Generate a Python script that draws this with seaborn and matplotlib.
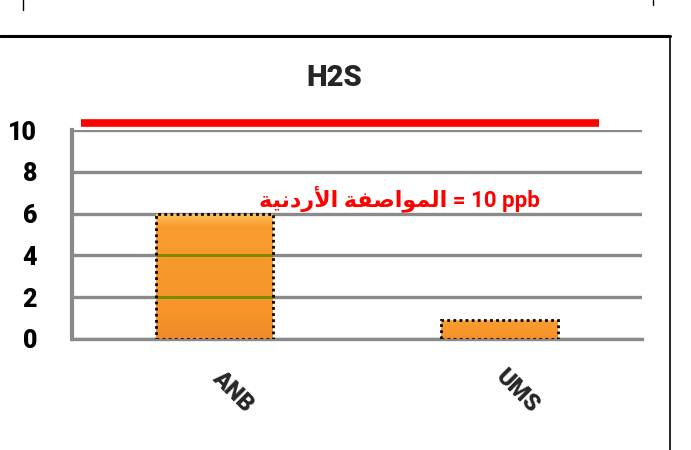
import numpy as np  # arrays
import pandas as pd  # data
import matplotlib.pyplot as plt  # plotting
import seaborn as sns  # plotting
from matplotlib.colors import LinearSegmentedColormap
from matplotlib.transforms import ScaledTranslation

# DATA
sites = ['ANB', 'UMS']
h2s_values = [6.0, 0.9]
y_ticks = [0, 2, 4, 6, 8, 10]
standard_line = 10.35  # red standard line, drawn just above the 10 gridline
title_text = 'H2S'
standard_label_ar = 'المواصفة الأردنية'
standard_label_val = '= 10 ppb'

sns.set_style('white')
plt.rcParams['font.family'] = ['Roboto', 'DejaVu Sans']
plt.rcParams['font.weight'] = 'bold'

GRAY = '#8a8a8a'


# matplotlib has no arabic shaping, so pick presentation forms by hand
# forms: isolated, final, initial, medial
AR_FORMS = {
    'ا': ('\ufe8d', '\ufe8e', None, None),
    'أ': ('\ufe83', '\ufe84', None, None),
    'ل': ('\ufedd', '\ufede', '\ufedf', '\ufee0'),
    'م': ('\ufee1', '\ufee2', '\ufee3', '\ufee4'),
    'و': ('\ufeed', '\ufeee', None, None),
    'ص': ('\ufeb9', '\ufeba', '\ufebb', '\ufebc'),
    'ف': ('\ufed1', '\ufed2', '\ufed3', '\ufed4'),
    'ة': ('\ufe93', '\ufe94', None, None),
    'ر': ('\ufead', '\ufeae', None, None),
    'د': ('\ufea9', '\ufeaa', None, None),
    'ن': ('\ufee5', '\ufee6', '\ufee7', '\ufee8'),
    'ي': ('\ufef1', '\ufef2', '\ufef3', '\ufef4'),
    'لأ': ('\ufef7', '\ufef8', None, None),
    'لا': ('\ufefb', '\ufefc', None, None),
}


def shape_arabic(text):
    letters = []
    i = 0
    while i < len(text):
        if text[i:i + 2] in ('لأ', 'لا'):
            letters.append(text[i:i + 2])
            i += 2
        else:
            letters.append(text[i])
            i += 1
    out = []
    for k, ch in enumerate(letters):
        if ch not in AR_FORMS:
            out.append(ch)
            continue
        prev = letters[k - 1] if k > 0 else None
        nxt = letters[k + 1] if k + 1 < len(letters) else None
        joins_prev = prev in AR_FORMS and AR_FORMS[prev][2] is not None
        joins_next = AR_FORMS[ch][2] is not None and nxt in AR_FORMS
        iso, fin, ini, med = AR_FORMS[ch]
        if joins_prev and joins_next:
            out.append(med)
        elif joins_next:
            out.append(ini)
        elif joins_prev:
            out.append(fin)
        else:
            out.append(iso)
    return ''.join(reversed(out))  # visual (right-to-left) order


df = pd.DataFrame({'site': sites, 'h2s': h2s_values})

fig = plt.figure(figsize=(6.91, 4.5), dpi=100)
ax = fig.add_axes([0.104, 0.2467, 0.825, 0.4644])

sns.barplot(data=df, x='site', y='h2s', color='#f7962a', width=0.41,
            edgecolor='black', linewidth=2.0, linestyle=(0, (1, 1.2)), ax=ax, zorder=3)

ax.set_xlabel('')
ax.set_ylabel('')

# bar gradient (office-style bevel: light top strip, slightly darker bottom)
grad = LinearSegmentedColormap.from_list(
    'bar', [(0, '#ef8b29'), (0.2, '#f6942a'), (0.9, '#f99c2e'), (1, '#fdc463')])
for p in ax.patches:
    x0, w, h = p.get_x(), p.get_width(), p.get_height()
    im = ax.imshow(np.linspace(0, 1, 200).reshape(-1, 1), cmap=grad, aspect='auto',
                   origin='lower', extent=(x0, x0 + w, 0, h), zorder=3.1)
    im.set_clip_path(p)
    # gridlines seen through the bar
    for g in y_ticks[1:]:
        if g < h:
            ax.hlines(g, x0, x0 + w, color='#7d8a00', linewidth=2.2, zorder=3.2)
    p.set_facecolor('none')
    p.set_zorder(3.3)
ax.set_xlim(-0.5, 1.5)
ax.set_ylim(0, 10)
ax.set_yticks(y_ticks)

# grid and axes
ax.grid(axis='y', color=GRAY, linewidth=2.4, zorder=1)
ax.grid(axis='x', visible=False)
for s in ['top', 'right']:
    ax.spines[s].set_visible(False)
ax.spines['left'].set_color(GRAY)
ax.spines['left'].set_linewidth(3)
ax.spines['bottom'].set_color(GRAY)
ax.spines['bottom'].set_linewidth(2.4)
ax.tick_params(axis='y', length=9, width=2.4, color=GRAY, pad=16, labelsize=18,
               labelcolor='black')
ax.set_xticks([-0.5, 0.5, 1.5], minor=True)
ax.tick_params(axis='x', which='minor', length=6, width=2.4, color=GRAY)
ax.tick_params(axis='x', which='major', length=0, pad=38, labelsize=17)
for lbl in ax.get_yticklabels():
    lbl.set_fontweight('black')
shift = ScaledTranslation(18 / 100, 0, fig.dpi_scale_trans)
for lbl in ax.get_xticklabels():
    lbl.set_rotation(-45)
    lbl.set_ha('center')
    lbl.set_va('center')
    lbl.set_fontweight('black')
    lbl.set_transform(lbl.get_transform() + shift)

# red standard line
ax.axhline(standard_line, xmin=0.016, xmax=0.925, color='#ff0000', linewidth=5.5,
           solid_capstyle='butt', clip_on=False, zorder=4)
ax.text(0.65, 6.7, shape_arabic(standard_label_ar) + ' ' + standard_label_val,
        color='#ff0000', fontsize=16, fontweight='bold', ha='center', va='center',
        family=['Roboto', 'DejaVu Sans'], zorder=5)

fig.text(0.484, 0.827, title_text, ha='center', va='center', fontsize=21,
         fontweight='black')

# frame lines of the slide around the chart
fig.add_artist(plt.Line2D([0, 670 / 691], [0.92, 0.92], color='black', linewidth=2.2))
fig.add_artist(plt.Line2D([670 / 691, 670 / 691], [0.92, 0], color='black', linewidth=1.2))
fig.add_artist(plt.Line2D([23 / 691, 23 / 691], [1, 0.978], color='black', linewidth=1))
fig.add_artist(plt.Line2D([653 / 691, 653 / 691], [1, 0.99], color='black', linewidth=1))

plt.savefig('out.png', dpi=100)
